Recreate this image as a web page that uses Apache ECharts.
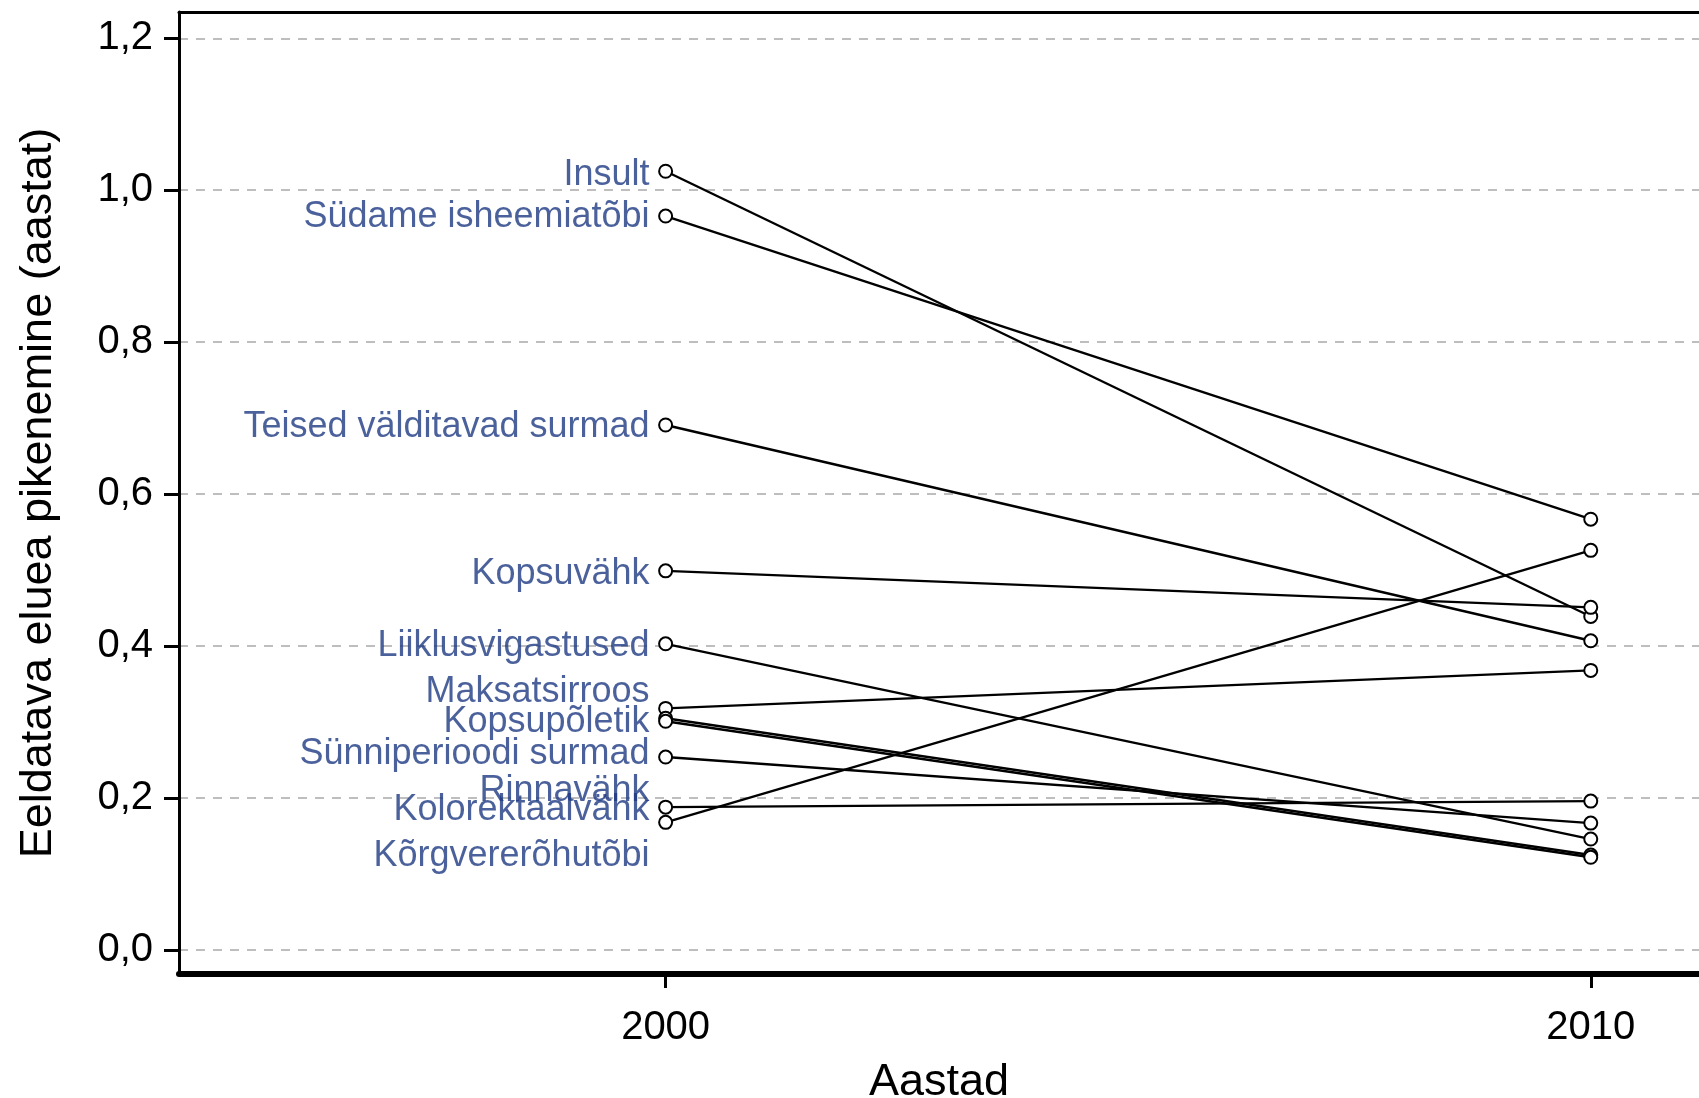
<!DOCTYPE html>
<html>
<head>
<meta charset="utf-8">
<script src="https://cdn.jsdelivr.net/npm/echarts@6/dist/echarts.min.js"></script>
<style>
html, body { margin: 0; padding: 0; background: #ffffff; }
#chart { width: 1699px; height: 1098px; }
</style>
</head>
<body>
<div id="chart"></div>
<script>
// kategooriad ja väärtused
var names = ['Insult', 'Südame isheemiatõbi', 'Teised välditavad surmad', 'Kopsuvähk', 'Liiklusvigastused',
  'Maksatsirroos', 'Kopsupõletik', 'Sünniperioodi surmad', 'Rinnavähk', 'Kolorektaalvähk', 'Kõrgvererõhutõbi']
var years = [2000, 2010]
var v2000 = [1.025, 0.966, 0.691, 0.499, 0.403, 0.318, 0.305, 0.301, 0.254, 0.188, 0.168]
var v2010 = [0.439, 0.567, 0.407, 0.451, 0.146, 0.368, 0.125, 0.122, 0.167, 0.196, 0.526]
// siltide kõrgused (nihutatud, et ei kattuks)
var labelY = [1.024, 0.968, 0.692, 0.499, 0.404, 0.344, 0.304, 0.262, 0.213, 0.188, 0.128]
var yTicks = [0, 0.2, 0.4, 0.6, 0.8, 1.0, 1.2]
var xTicks = [2000, 2010]

var font = 'Liberation Sans, Arial, sans-serif'
var chart = echarts.init(document.getElementById('chart'))

var series = []
names.forEach(function (n, i) {
  series.push({
    name: n,
    type: 'line',
    data: [[years[0], v2000[i]], [years[1], v2010[i]]],
    symbol: 'circle',
    symbolSize: 13,
    showAllSymbol: true,
    itemStyle: { color: '#ffffff', borderColor: '#000000', borderWidth: 2 },
    lineStyle: { color: '#000000', width: 2.4 },
    emphasis: { disabled: true },
    z: 3
  })
})
series.push({
  type: 'scatter',
  data: names.map(function (n, i) { return { value: [years[0], labelY[i]], name: n } }),
  symbolSize: 0,
  label: {
    show: true,
    position: 'left',
    distance: 16,
    offset: [0, 3],
    formatter: '{b}',
    fontFamily: font,
    fontSize: 36,
    color: '#1E3A82'
  },
  emphasis: { disabled: true },
  silent: true,
  z: 4
})

var xMin = 1994.74
var xMax = 2011.17

var option = {
  animation: false,
  grid: {
    left: 179, top: 12, right: 0, bottom: 124,
    outerBoundsMode: 'none',
    containLabel: false
  },
  xAxis: [{
    type: 'value',
    min: xMin,
    max: xMax,
    name: 'Aastad',
    nameLocation: 'middle',
    nameGap: 86,
    nameTextStyle: { fontFamily: font, fontSize: 45, color: '#000000' },
    axisLine: { show: true, onZero: false, lineStyle: { color: '#000000', width: 6 } },
    axisTick: { show: true, customValues: xTicks, length: 14, lineStyle: { color: '#000000', width: 3 } },
    axisLabel: {
      customValues: xTicks, fontFamily: font, fontSize: 40, color: '#000000', margin: 34,
      formatter: function (v) { return String(v) }
    },
    splitLine: { show: false }
  }, {
    // ülemine raam
    type: 'value',
    position: 'top',
    min: xMin,
    max: xMax,
    axisLine: { show: true, onZero: false, lineStyle: { color: '#000000', width: 3 } },
    axisTick: { show: false },
    axisLabel: { show: false },
    splitLine: { show: false }
  }],
  yAxis: {
    type: 'value',
    min: -0.0316,
    max: 1.2346,
    name: 'Eeldatava eluea pikenemine (aastat)',
    nameLocation: 'middle',
    nameGap: 118,
    nameTextStyle: { fontFamily: font, fontSize: 45, color: '#000000' },
    axisLine: { show: true, onZero: false, lineStyle: { color: '#000000', width: 3 } },
    axisTick: { show: true, customValues: yTicks, length: 15, lineStyle: { color: '#000000', width: 3 } },
    axisLabel: {
      customValues: yTicks,
      fontFamily: font, fontSize: 40, color: '#000000', margin: 26,
      formatter: function (v) { return v.toFixed(1).replace('.', ',') }
    },
    splitLine: { show: true, lineStyle: { color: '#BEBEBE', width: 2, type: [9, 8] } }
  },
  series: series
}
chart.setOption(option)
</script>
</body>
</html>
